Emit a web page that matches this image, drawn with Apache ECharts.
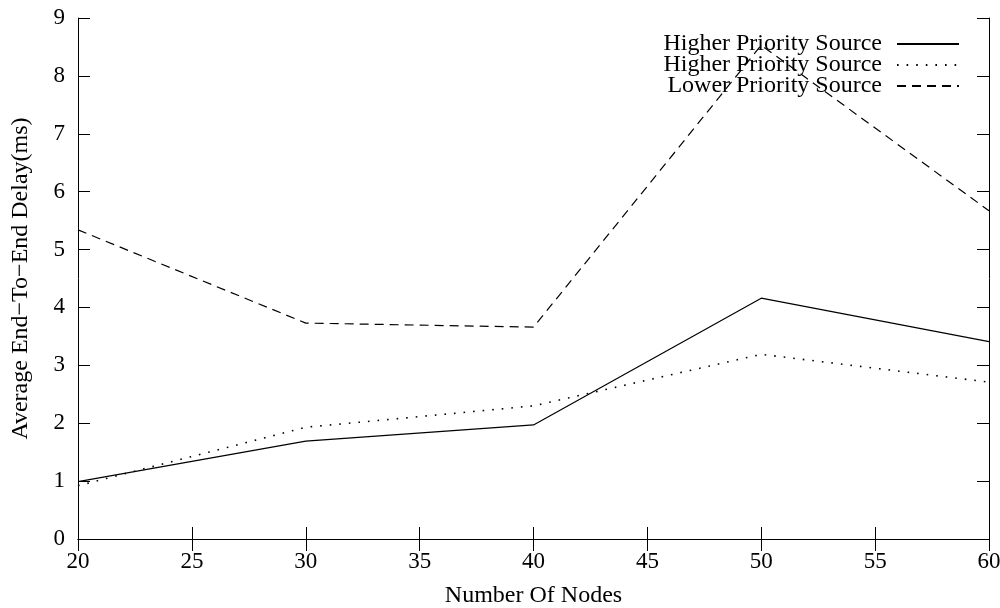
<!DOCTYPE html>
<html>
<head>
<meta charset="utf-8">
<script src="https://cdn.jsdelivr.net/npm/echarts@6/dist/echarts.min.js"></script>
<style>html,body{margin:0;padding:0;background:#fff}#c{width:1000px;height:608px}</style>
</head>
<body>
<div id="c"></div>
<script>
const nodes = [20, 30, 40, 50, 60];
const higherA = [0.99, 1.69, 1.97, 4.16, 3.41];
const higherB = [0.92, 1.93, 2.30, 3.19, 2.71];
const lower = [5.34, 3.73, 3.66, 8.53, 5.67];
const seriesLabels = ['Higher Priority Source', 'Higher Priority Source', 'Lower Priority Source'];
const seriesKeys = ['hpA', 'hpB', 'lp'];
const xTitle = 'Number Of Nodes';
const yTitle = 'Average End\u2212To\u2212End Delay(ms)';

const font = 'Liberation Serif';
const fs = 23;
const fsTitle = 24;
const chart = echarts.init(document.getElementById('c'), null, {renderer: 'canvas'});
const pairs = arr => nodes.map((n, i) => [n, arr[i]]);
const axisLine = {show: true, lineStyle: {color: '#000', width: 1}};
const tick = {show: true, inside: true, length: 12, lineStyle: {color: '#000', width: 1}};
const styles = [
  {type: 'solid', width: 1.2},
  {type: [1.6, 8], width: 1.6},
  {type: [9, 6], width: 1.2}
];
const dataArrs = [higherA, higherB, lower];

chart.setOption({
  animation: false,
  backgroundColor: '#fff',
  grid: {left: 78, right: 11, top: 18, bottom: 69, containLabel: false, outerBoundsMode: 'none'},
  legend: {
    orient: 'vertical',
    right: 35,
    top: 27,
    align: 'right',
    itemWidth: 62,
    itemHeight: 10,
    itemGap: -3,
    data: seriesKeys,
    formatter: name => seriesLabels[seriesKeys.indexOf(name)],
    itemStyle: {opacity: 0},
    textStyle: {fontFamily: font, fontSize: fsTitle, color: '#000', lineHeight: 21, padding: [0, 10, 0, 0]},
    selectedMode: false
  },
  xAxis: [
    {type: 'value', min: 20, max: 60, interval: 5, position: 'bottom',
     axisLine: axisLine, axisTick: tick, splitLine: {show: false},
     axisLabel: {fontFamily: font, fontSize: fs, color: '#000', margin: 11},
     name: xTitle, nameLocation: 'middle', nameGap: 45,
     nameTextStyle: {fontFamily: font, fontSize: fsTitle, color: '#000'}},
    {type: 'value', min: 20, max: 60, interval: 5, position: 'top',
     axisLine: axisLine, axisTick: tick, splitLine: {show: false}, axisLabel: {show: false}}
  ],
  yAxis: [
    {type: 'value', min: 0, max: 9, interval: 1, position: 'left',
     axisLine: axisLine, axisTick: tick, splitLine: {show: false},
     axisLabel: {fontFamily: font, fontSize: fs, color: '#000', margin: 13},
     name: yTitle, nameLocation: 'middle', nameGap: 45, nameRotate: 90,
     nameTextStyle: {fontFamily: font, fontSize: fsTitle, color: '#000'}},
    {type: 'value', min: 0, max: 9, interval: 1, position: 'right',
     axisLine: axisLine, axisTick: tick, splitLine: {show: false}, axisLabel: {show: false}}
  ],
  series: seriesKeys.map((k, i) => ({
    name: k,
    type: 'line',
    data: pairs(dataArrs[i]),
    symbol: 'none',
    lineStyle: Object.assign({color: '#000'}, styles[i]),
    itemStyle: {color: '#000'},
    xAxisIndex: 0,
    yAxisIndex: 0
  }))
});
</script>
</body>
</html>
